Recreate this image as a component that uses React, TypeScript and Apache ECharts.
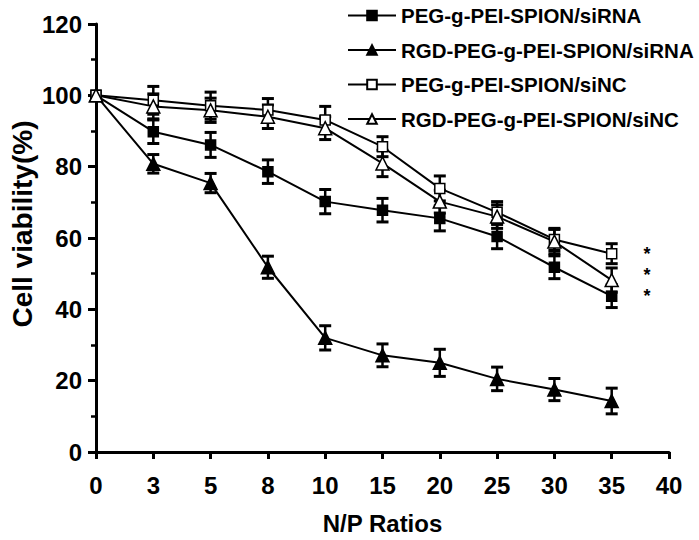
import React, { useEffect, useRef } from "react";
import * as echarts from "echarts";

const categories = ["0", "3", "5", "8", "10", "15", "20", "25", "30", "35", "40"];
const yTicks = [0, 20, 40, 60, 80, 100, 120];

const seriesNames = [
  "PEG-g-PEI-SPION/siRNA",
  "RGD-PEG-g-PEI-SPION/siRNA",
  "PEG-g-PEI-SPION/siNC",
  "RGD-PEG-g-PEI-SPION/siNC",
];

const pegSiRNA = [100, 89.8, 86.1, 78.6, 70.2, 67.8, 65.5, 60.4, 51.8, 43.7];
const pegSiRNAErr = [0, 3.3, 3.5, 3.3, 3.4, 3.3, 3.5, 3.4, 3.2, 3.2];

const rgdSiRNA = [100, 80.8, 75.4, 51.8, 32.0, 27.1, 25.0, 20.5, 17.5, 14.3];
const rgdSiRNAErr = [0, 2.6, 2.7, 3.1, 3.4, 3.2, 3.8, 3.3, 3.1, 3.6];

const pegSiNC = [100, 98.6, 97.1, 95.9, 93.1, 85.6, 73.9, 67.2, 59.6, 55.6];
const pegSiNCErr = [0, 3.9, 3.8, 3.2, 3.8, 2.8, 3.5, 3.0, 3.1, 2.8];

const rgdSiNC = [100, 96.9, 95.8, 94.0, 90.8, 80.9, 70.2, 66.0, 59.0, 48.2];
const rgdSiNCErr = [0, 3.5, 3.4, 3.3, 3.2, 3.7, 3.2, 3.3, 3.4, 3.4];

// significance marks beside the N/P 35 points (value level of each "*")
const asteriskValues = [56.6, 50.7, 44.8];

const FONT = "'Liberation Sans', Arial, Helvetica, sans-serif";

function errData(vals: number[], errs: number[]) {
  return vals.map((v, i) => [i, v - errs[i], v + errs[i]]);
}

export default function App() {
  const ref = useRef<HTMLDivElement>(null);
  useEffect(() => {
    document.body.style.margin = "0";
    if (!ref.current) return;
    const chart = echarts.init(ref.current, null, { renderer: "svg" });

    const errStyle = { stroke: "#000", lineWidth: 2.5, fill: null } as any;
    const renderErr = (params: any, api: any) => {
      const x = api.value(0);
      const lo = api.coord([x, api.value(1)]);
      const hi = api.coord([x, api.value(2)]);
      if (Math.abs(lo[1] - hi[1]) < 0.5) return { type: "group", children: [] };
      const hw = 6;
      return {
        type: "group",
        children: [
          { type: "line", shape: { x1: lo[0], y1: lo[1], x2: hi[0], y2: hi[1] }, style: errStyle },
          { type: "line", shape: { x1: lo[0] - hw, y1: lo[1], x2: lo[0] + hw, y2: lo[1] }, style: { ...errStyle, lineWidth: 3 } },
          { type: "line", shape: { x1: hi[0] - hw, y1: hi[1], x2: hi[0] + hw, y2: hi[1] }, style: { ...errStyle, lineWidth: 3 } },
        ],
      };
    };

    const all = [
      { name: seriesNames[0], vals: pegSiRNA, errs: pegSiRNAErr, symbol: "rect", size: 10, fill: "#000" },
      { name: seriesNames[1], vals: rgdSiRNA, errs: rgdSiRNAErr, symbol: "triangle", size: 13, fill: "#000" },
      { name: seriesNames[2], vals: pegSiNC, errs: pegSiNCErr, symbol: "rect", size: 10, fill: "#fff" },
      { name: seriesNames[3], vals: rgdSiNC, errs: rgdSiNCErr, symbol: "triangle", size: 13, fill: "#fff" },
    ];

    const series: any[] = [];
    all.forEach((s) => {
      series.push({
        type: "custom",
        name: s.name + "-err",
        renderItem: renderErr,
        data: errData(s.vals, s.errs),
        encode: { x: 0, y: [1, 2] },
        z: 1,
        silent: true,
      });
    });
    all.forEach((s) => {
      series.push({
        type: "line",
        name: s.name,
        data: s.vals,
        symbol: s.symbol,
        symbolSize: s.size,
        showAllSymbol: true,
        lineStyle: { color: "#000", width: 2 },
        itemStyle: { color: s.fill, borderColor: "#000", borderWidth: 1.5 },
        z: 3,
      });
    });

    const asteriskGraphics = asteriskValues.map((v) => ({
      type: "text",
      x: 647,
      y: 452 - v * (428 / 120) + 4,
      style: {
        text: "*",
        font: `bold 18px ${FONT}`,
        fill: "#000",
        textAlign: "center",
        textVerticalAlign: "middle",
      },
    }));

    chart.setOption({
      animation: false,
      backgroundColor: "#fff",
      grid: { left: 96, right: 30, top: 24, bottom: 88, outerBoundsMode: "none" } as any,
      legend: {
        data: seriesNames,
        orient: "vertical",
        left: 347,
        top: 5,
        padding: 0,
        itemWidth: 48,
        itemHeight: 12,
        itemGap: 13.5,
        textStyle: { fontSize: 20.5, fontWeight: "bold", color: "#000", fontFamily: FONT, lineHeight: 20 },
      },
      xAxis: {
        type: "category",
        data: categories,
        boundaryGap: false,
        name: "N/P Ratios",
        nameLocation: "middle",
        nameGap: 59,
        nameTextStyle: { fontSize: 24, fontWeight: "bold", color: "#000", fontFamily: FONT },
        axisLine: { lineStyle: { color: "#000", width: 3 } },
        axisTick: { show: true, length: 7, lineStyle: { color: "#000", width: 3 }, alignWithLabel: true },
        axisLabel: { fontSize: 24, fontWeight: "bold", color: "#000", fontFamily: FONT, margin: 21, interval: 0 },
        splitLine: { show: false },
      },
      yAxis: {
        type: "value",
        min: yTicks[0],
        max: yTicks[yTicks.length - 1],
        interval: 20,
        axisLine: { show: true, lineStyle: { color: "#000", width: 3 } },
        axisTick: { show: true, length: 8, lineStyle: { color: "#000", width: 3 } },
        minorTick: { show: true, splitNumber: 2, length: 5, lineStyle: { color: "#000", width: 2.5 } },
        axisLabel: { fontSize: 24, fontWeight: "bold", color: "#000", fontFamily: FONT, margin: 14 },
        splitLine: { show: false },
      },
      graphic: [
        {
          type: "text",
          x: 22,
          y: 224,
          rotation: Math.PI / 2,
          style: {
            text: "Cell viability(%)",
            font: `bold 28px ${FONT}`,
            fill: "#000",
            textAlign: "center",
            textVerticalAlign: "middle",
          },
        },
        ...asteriskGraphics,
      ],
      series,
    });
    return () => chart.dispose();
  }, []);
  return <div ref={ref} style={{ width: 699, height: 540 }} />;
}
